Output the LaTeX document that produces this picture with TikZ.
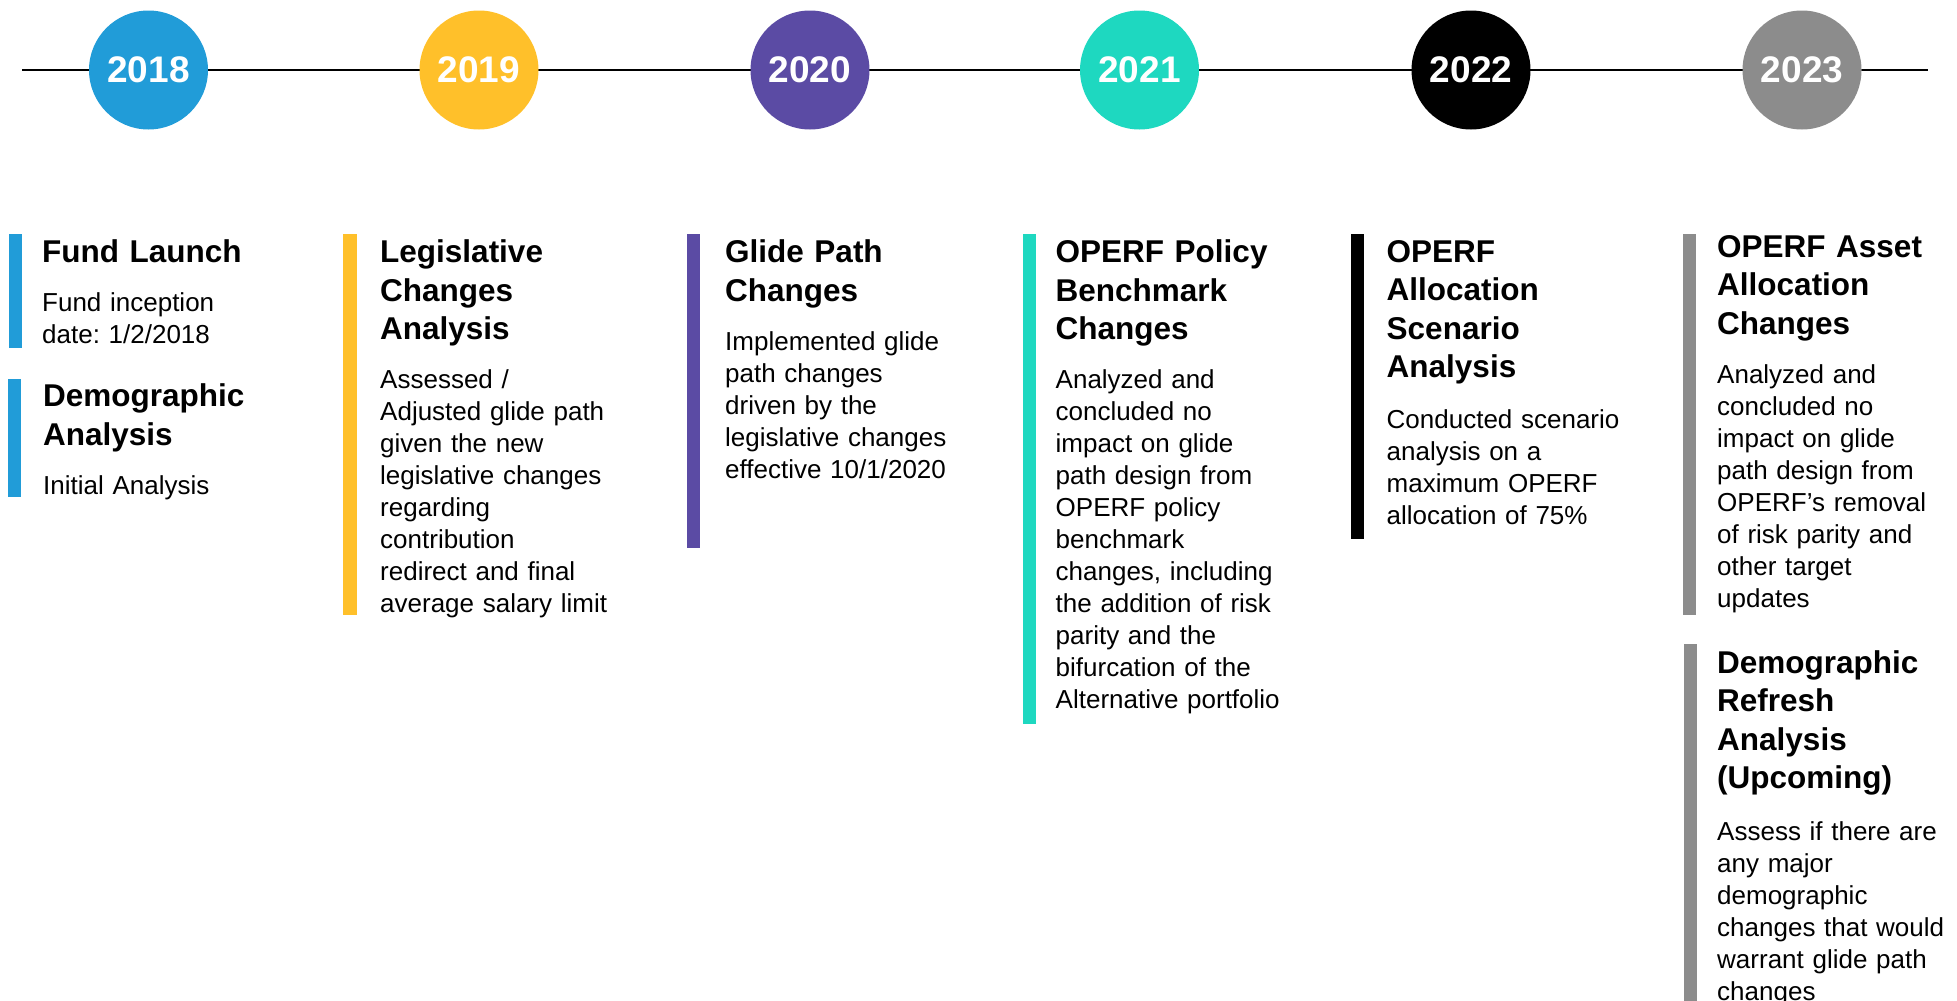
\documentclass[tikz,border=0pt]{standalone}
\usepackage{fontspec}
\setmainfont{Liberation Sans}
\frenchspacing
\definecolor{cBlue}{RGB}{33,156,216}
\definecolor{cYellow}{RGB}{255,192,42}
\definecolor{cPurple}{RGB}{91,75,164}
\definecolor{cTeal}{RGB}{30,216,192}
\definecolor{cBlack}{RGB}{0,0,0}
\definecolor{cGray}{RGB}{140,140,140}
\begin{document}
\begin{tikzpicture}[x=1pt,y=-1pt,
  year/.style={circle, minimum size=119pt, inner sep=0pt, text=white,
    font=\bfseries\fontsize{37}{40}\selectfont},
  ttl/.style={anchor=base west, inner sep=0pt, align=left, text width=330pt,
    font=\bfseries\fontsize{31.5}{38.5}\selectfont},
  bdy/.style={anchor=base west, inner sep=0pt, align=left, text width=330pt,
    font=\fontsize{26}{32}\selectfont},
  bar/.style={fill=#1},
  tline/.style={line width=2.8pt, black}
  ]
\useasboundingbox (0,0) rectangle (1957,1001);
\clip (0,0) rectangle (1957,1001);

% timeline
\coordinate (tlstart) at (22,70);
\coordinate (tlend) at (1928,70);
\draw[tline] (tlstart) -- (tlend);

\node[year, fill=cBlue]   (y2018) at (148.5,70) {2018};
\node[year, fill=cYellow] (y2019) at (479,70)   {2019};
\node[year, fill=cPurple] (y2020) at (810,70)   {2020};
\node[year, fill=cTeal]   (y2021) at (1139.5,70) {2021};
\node[year, fill=cBlack]  (y2022) at (1471,70)  {2022};
\node[year, fill=cGray]   (y2023) at (1802,70)  {2023};

% column 1
\fill[bar=cBlue] (9,234) rectangle (22,348);
\node[ttl] (t1a) at (42,262.7) {Fund Launch};
\node[bdy] (b1a) at (42,311.7) {Fund inception\\date: 1/2/2018};
\fill[bar=cBlue] (8,379) rectangle (21,497);
\node[ttl] (t1b) at (43,406.7) {Demographic\\Analysis};
\node[bdy] (b1b) at (43,494) {Initial Analysis};

% column 2
\fill[bar=cYellow] (343,234) rectangle (356.5,615);
\node[ttl] (t2) at (380,262.7) {Legislative\\Changes\\Analysis};
\node[bdy] (b2) at (380,388.3) {Assessed /\\Adjusted glide path\\given the new\\legislative changes\\regarding\\contribution\\redirect and final\\average salary limit};

% column 3
\fill[bar=cPurple] (687.4,234) rectangle (700.4,548);
\node[ttl] (t3) at (725,262.7) {Glide Path\\Changes};
\node[bdy] (b3) at (725,350.7) {Implemented glide\\path changes\\driven by the\\legislative changes\\effective 10/1/2020};

% column 4
\fill[bar=cTeal] (1022.6,234) rectangle (1035.6,724);
\node[ttl] (t4) at (1055.5,262.7) {OPERF Policy\\Benchmark\\Changes};
\node[bdy] (b4) at (1055.5,388.3) {Analyzed and\\concluded no\\impact on glide\\path design from\\OPERF policy\\benchmark\\changes, including\\the addition of risk\\parity and the\\bifurcation of the\\Alternative portfolio};

% column 5
\fill[bar=cBlack] (1351,234) rectangle (1364,539);
\node[ttl] (t5) at (1386.5,262.3) {OPERF\\Allocation\\Scenario\\Analysis};
\node[bdy] (b5) at (1386.5,428) {Conducted scenario\\analysis on a\\maximum OPERF\\allocation of 75\%};

% column 6
\fill[bar=cGray] (1683,234) rectangle (1696,615);
\node[ttl] (t6a) at (1717,257.4) {OPERF Asset\\Allocation\\Changes};
\node[bdy] (b6a) at (1717,383.3) {Analyzed and\\concluded no\\impact on glide\\path design from\\OPERF’s removal\\of risk parity and\\other target\\updates};
\fill[bar=cGray] (1684,644) rectangle (1697,1010);
\node[ttl] (t6b) at (1717,673.2) {Demographic\\Refresh\\Analysis\\(Upcoming)};
\node[bdy] (b6b) at (1717,840) {Assess if there are\\any major\\demographic\\changes that would\\warrant glide path\\changes};
\end{tikzpicture}
\end{document}
